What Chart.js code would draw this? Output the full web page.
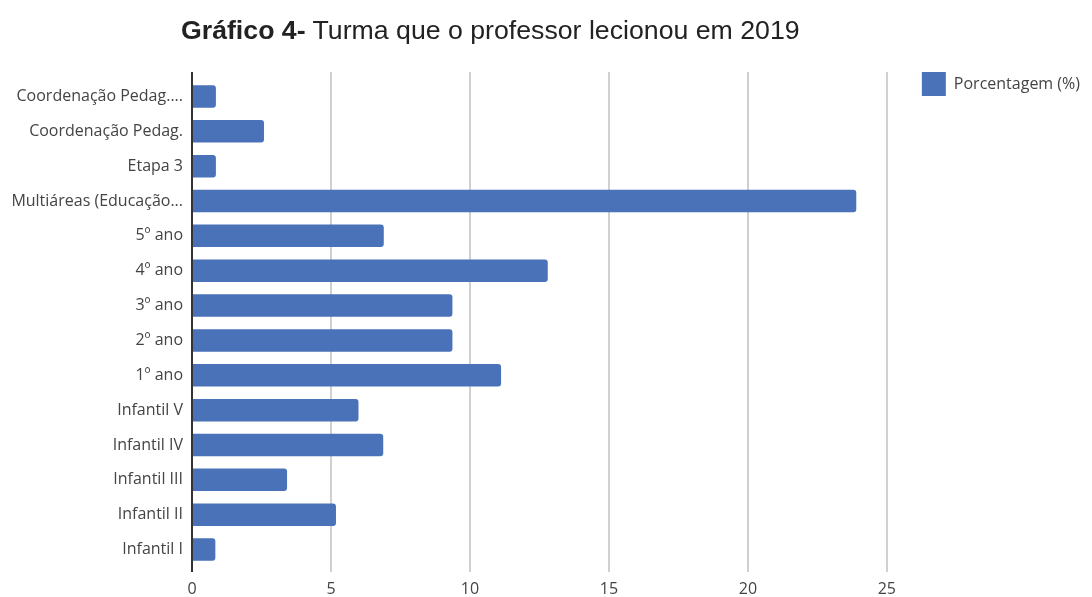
<!DOCTYPE html>
<html>
<head>
<meta charset="utf-8">
<script src="https://cdn.jsdelivr.net/npm/chart.js@4/dist/chart.umd.min.js"></script>
<style>
  body { margin: 0; background: #fff; }
  #wrap { position: relative; width: 1092px; height: 597px; }
  #title {
    position: absolute; left: 181px; top: 14px;
    font-family: "Liberation Sans", Arial, sans-serif; font-size: 26.7px; line-height: 32px;
    color: #222; white-space: nowrap;
  }
  #title b { font-weight: bold; }
</style>
</head>
<body>
<div id="wrap">
  <div id="title"><b>Gráfico 4-</b> Turma que o professor lecionou em 2019</div>
  <canvas id="chart"></canvas>
</div>
<script>
// Categories, top to bottom
var turmas = ['Coordenação Pedag....', 'Coordenação Pedag.', 'Etapa 3', 'Multiáreas (Educação...',
  '5º ano', '4º ano', '3º ano', '2º ano', '1º ano',
  'Infantil V', 'Infantil IV', 'Infantil III', 'Infantil II', 'Infantil I'];

// Porcentagem (%) for each turma
var porcentagem = [0.86, 2.59, 0.86, 23.9, 6.9, 12.8, 9.37, 9.37, 11.12, 5.99, 6.88, 3.42, 5.18, 0.84];

// x axis ticks
var xMin = 0;
var xMax = 25;
var xStep = 5;

var gridColor = function (c) { return c.tick.value === 0 ? '#333' : '#d0d0d0'; };

var ctx = document.getElementById('chart').getContext('2d');
var chart = new Chart(ctx, {
  type: 'bar',
  data: {
    labels: turmas,
    datasets: [{
      label: 'Porcentagem (%)',
      data: porcentagem,
      backgroundColor: '#4a72b8',
      borderRadius: 3,
      categoryPercentage: 1,
      barPercentage: 0.645
    }]
  },
  options: {
    indexAxis: 'y',
    responsive: true,
    maintainAspectRatio: false,
    animation: false,
    layout: { padding: { top: 37, right: 2, bottom: 0, left: 0 } },
    scales: {
      x: {
        position: 'bottom',
        min: xMin, max: xMax,
        ticks: { stepSize: xStep, padding: 8, color: '#444', font: { family: 'Open Sans', size: 16 } },
        grid: { color: gridColor, lineWidth: 2, tickLength: 5 },
        border: { display: false },
        afterFit: function (s) { s.height = 30; }
      },
      x2: {
        position: 'top',
        min: xMin, max: xMax,
        ticks: { stepSize: xStep, display: false },
        grid: { color: gridColor, lineWidth: 2, tickLength: 7 },
        border: { display: false },
        afterFit: function (s) { s.height = 42; }
      },
      y: {
        ticks: { padding: 9, color: '#444', font: { family: 'Open Sans', size: 16 } },
        grid: { display: false, drawTicks: false },
        border: { display: false },
        afterFit: function (s) { s.width = 192; }
      }
    },
    plugins: {
      legend: {
        position: 'right',
        align: 'start',
        labels: {
          boxWidth: 24, boxHeight: 24, padding: 35,
          color: '#444', font: { family: 'Open Sans', size: 16 }
        }
      },
      tooltip: { enabled: false }
    }
  }
});
</script>
</body>
</html>
